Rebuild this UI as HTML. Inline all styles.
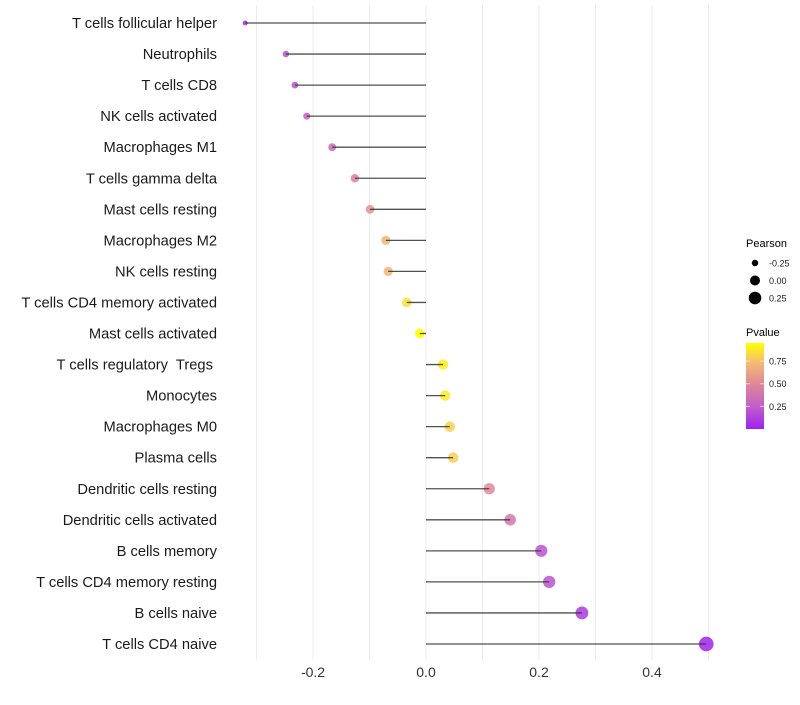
<!DOCTYPE html>
<html><head><meta charset="utf-8"><style>
body{margin:0;background:#fff;}
svg text{font-family:"Liberation Sans",sans-serif;white-space:pre;}
</style></head><body>
<svg id="chart" width="800" height="700" xmlns="http://www.w3.org/2000/svg">
<g id="grid"></g>
<g id="marks"></g>
<g id="ylabels"></g>
<g id="xlabels"></g>
<g id="legend">
 <text x="746" y="247" font-size="11">Pearson</text>
 <g id="sizeLegend"></g>
 <text x="746" y="336" font-size="11">Pvalue</text>
 <defs><linearGradient id="pg" x1="0" y1="1" x2="0" y2="0">
  <stop offset="0" stop-color="#a020f0"/><stop offset="0.26" stop-color="#c060c8"/>
  <stop offset="0.53" stop-color="#e08898"/><stop offset="0.79" stop-color="#f5c070"/><stop offset="1" stop-color="#ffff00"/>
 </linearGradient></defs>
 <rect x="746" y="343" width="18" height="86" fill="url(#pg)"/>
 <g id="cbTicks"></g>
</g>
</svg>
<script>
const categories=["T cells follicular helper","Neutrophils","T cells CD8","NK cells activated","Macrophages M1","T cells gamma delta","Mast cells resting","Macrophages M2","NK cells resting","T cells CD4 memory activated","Mast cells activated","T cells regulatory  Tregs ","Monocytes","Macrophages M0","Plasma cells","Dendritic cells resting","Dendritic cells activated","B cells memory","T cells CD4 memory resting","B cells naive","T cells CD4 naive"];
const pearson=[-0.32,-0.248,-0.232,-0.211,-0.166,-0.126,-0.099,-0.071,-0.067,-0.034,-0.011,0.030,0.034,0.042,0.048,0.112,0.149,0.204,0.218,0.276,0.496];
const pvalue=[0.05,0.2,0.2,0.25,0.3,0.45,0.55,0.7,0.7,0.85,0.95,0.9,0.88,0.8,0.8,0.5,0.4,0.2,0.2,0.1,0.01];
const xTicks=[-0.2,0,0.2,0.4];
const xTickLabels=["-0.2","0.0","0.2","0.4"];
const gridVals=[-0.3,-0.2,-0.1,0,0.1,0.2,0.3,0.4,0.5];
const sizeLegendVals=[-0.25,0,0.25];
const sizeLegendLabels=["-0.25","0.00","0.25"];
const cbVals=[0.25,0.5,0.75];
const cbLabels=["0.25","0.50","0.75"];
const NS="http://www.w3.org/2000/svg";
const xs=v=>426+v*565;
const ys=i=>23+i*31.05;
const rs=v=>Math.sqrt(Math.max(25+58*v,2.5));
const stops=[[0,[160,32,240]],[0.25,[192,96,200]],[0.5,[224,136,152]],[0.75,[245,192,112]],[0.95,[255,255,0]]];
function col(p){p=Math.min(Math.max(p,0),0.95);for(let k=0;k<stops.length-1;k++){const[a,ca]=stops[k],[b,cb]=stops[k+1];if(p<=b){const t=(p-a)/(b-a);return`rgb(${ca.map((c,j)=>Math.round(c+(cb[j]-c)*t)).join(',')})`;}}return'rgb(255,255,0)';}
function mk(t,at,parent){const e=document.createElementNS(NS,t);for(const k in at)e.setAttribute(k,at[k]);parent.appendChild(e);return e;}
const grid=document.getElementById('grid');
gridVals.forEach(v=>{const l=mk('line',{x1:xs(v),x2:xs(v),y1:5,y2:660,stroke:'#ebebeb','stroke-width':1},grid);

});
const marks=document.getElementById('marks'),yl=document.getElementById('ylabels');
categories.forEach((c,i)=>{
 const y=ys(i);
 const pt=mk('circle',{cx:xs(pearson[i]),cy:y,r:rs(pearson[i]),fill:col(pvalue[i]),'fill-opacity':0.85},marks);
 
 
 const sg=mk('line',{x1:xs(0),x2:xs(pearson[i]),y1:y,y2:y,stroke:'#333','stroke-width':1.3,'stroke-opacity':0.85},marks);
 
 
 const t=mk('text',{x:217,y:y+5,'font-size':14.7,'text-anchor':'end',fill:'#1a1a1a'},yl);t.textContent=c;
 
 
});
const xl=document.getElementById('xlabels');
xTicks.forEach((v,i)=>{const t=mk('text',{x:xs(v),y:677,'font-size':14,'text-anchor':'middle',fill:'#333'},xl);t.textContent=xTickLabels[i];
 
 });
const sl=document.getElementById('sizeLegend');
sizeLegendVals.forEach((v,i)=>{const y=263+i*17.5;
 const c=mk('circle',{cx:755,cy:y,r:rs(v),fill:'#000'},sl);
 
 
 const t=mk('text',{x:769,y:y+3.5,'font-size':9,fill:'#1a1a1a'},sl);t.textContent=sizeLegendLabels[i];
 
 });
const cb=document.getElementById('cbTicks');
const cy=p=>429-p/0.95*86;
cbVals.forEach((v,i)=>{const y=cy(v);
 mk('line',{x1:746,x2:750,y1:y,y2:y,stroke:'#fff','stroke-opacity':0.6},cb);
 mk('line',{x1:760,x2:764,y1:y,y2:y,stroke:'#fff','stroke-opacity':0.6},cb);
 const t=mk('text',{x:769,y:y+3.5,'font-size':9,fill:'#1a1a1a'},cb);t.textContent=cbLabels[i];
 
 });
</script>
</body></html>
